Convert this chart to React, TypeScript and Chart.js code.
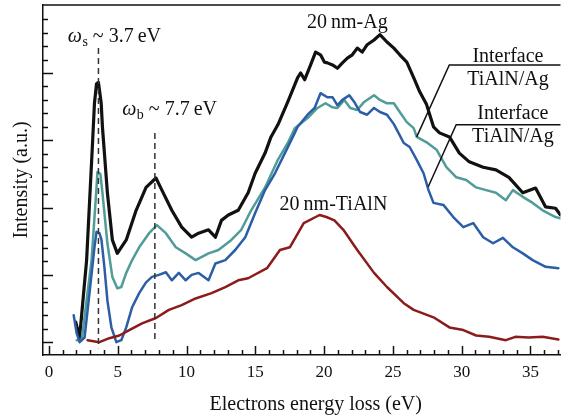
import React, { useEffect, useRef } from 'react';
import { Chart, registerables } from 'chart.js';

Chart.register(...registerables);

const FONT = '"Liberation Serif", "Times New Roman", serif';

// ---- Data (energy loss in eV, intensity in arbitrary units) ----
// 20 nm-Ag (black)
const agEnergy = [1.95, 2.23, 2.74, 3.17, 3.31, 3.46, 3.6, 3.8, 3.89, 4.25, 4.61, 4.97, 5.62, 6.34, 7.06, 7.78, 8.21, 8.93, 9.65, 10.37, 10.88, 11.6, 12.1, 12.54, 13.04, 13.76, 14.48, 14.99, 15.71, 16.14, 16.64, 17.36, 18.08, 18.3, 18.59, 19.02, 19.38, 19.74, 20.03, 20.24, 20.61, 20.97, 21.33, 21.69, 22.05, 22.41, 22.77, 23.13, 23.63, 24.06, 24.57, 25.07, 25.5, 26.01, 26.51, 26.95, 27.45, 27.95, 28.39, 29.11, 29.83, 30.55, 31.56, 32.49, 33.43, 34.44, 35.37, 36.1, 36.82, 37.18];
const agIntensity = [0.3, 0.07, 1.22, 2.96, 3.55, 3.84, 3.86, 3.55, 3.2, 2.22, 1.52, 1.32, 1.52, 1.96, 2.3, 2.44, 2.26, 1.96, 1.71, 1.56, 1.62, 1.67, 1.56, 1.81, 1.89, 1.96, 2.22, 2.51, 2.81, 3.05, 3.23, 3.57, 3.93, 4.0, 3.9, 4.12, 4.31, 4.27, 4.16, 4.15, 4.12, 4.07, 4.15, 4.22, 4.27, 4.37, 4.31, 4.42, 4.49, 4.57, 4.46, 4.37, 4.27, 4.16, 3.93, 3.72, 3.53, 3.2, 3.11, 3.05, 2.81, 2.68, 2.6, 2.56, 2.45, 2.22, 2.29, 2.01, 1.99, 1.89];

// Interface TiAlN/Ag (teal)
const tealEnergy = [2.02, 2.38, 3.1, 3.46, 3.53, 3.74, 3.89, 4.25, 4.61, 4.97, 5.26, 5.62, 6.05, 6.56, 7.28, 7.85, 8.5, 9.22, 9.94, 10.66, 11.6, 12.32, 13.26, 13.98, 14.7, 15.71, 16.64, 17.36, 17.87, 18.8, 19.52, 20.1, 20.61, 20.97, 21.47, 21.9, 22.41, 22.91, 23.63, 24.06, 24.57, 25.07, 25.5, 26.01, 26.51, 26.73, 27.45, 28.17, 28.89, 29.61, 30.33, 31.05, 31.77, 32.49, 33.21, 33.72, 34.44, 35.16, 35.88, 36.82, 37.18];
const tealIntensity = [0.03, 0.03, 1.22, 2.3, 2.53, 2.5, 2.22, 1.47, 0.97, 0.8, 0.82, 1.03, 1.22, 1.41, 1.62, 1.74, 1.62, 1.41, 1.32, 1.22, 1.32, 1.37, 1.52, 1.67, 1.96, 2.3, 2.71, 2.96, 3.18, 3.33, 3.48, 3.55, 3.49, 3.48, 3.6, 3.48, 3.45, 3.57, 3.67, 3.6, 3.55, 3.55, 3.42, 3.27, 3.18, 3.05, 2.97, 2.86, 2.6, 2.45, 2.41, 2.3, 2.26, 2.22, 2.11, 2.26, 2.16, 2.07, 1.96, 1.86, 1.84];

// Interface TiAlN/Ag (blue)
const blueEnergy = [1.8, 2.02, 2.23, 2.59, 2.95, 3.31, 3.46, 3.67, 3.82, 4.03, 4.25, 4.54, 4.9, 5.26, 5.62, 6.05, 6.56, 7.06, 7.49, 7.99, 8.5, 8.93, 9.44, 9.94, 10.37, 10.88, 11.6, 12.1, 12.82, 13.54, 14.27, 14.99, 15.71, 16.43, 17.15, 17.87, 18.08, 18.8, 19.31, 19.74, 20.24, 20.61, 20.97, 21.33, 21.83, 22.19, 22.62, 23.13, 23.63, 24.06, 24.57, 25.07, 25.79, 26.22, 26.73, 27.23, 27.59, 27.95, 28.67, 29.39, 30.12, 30.84, 31.56, 32.28, 33.0, 33.72, 34.44, 35.16, 36.1, 37.03];
const blueIntensity = [0.4, 0.13, 0.0, 0.07, 0.73, 1.41, 1.64, 1.62, 1.52, 1.12, 0.62, 0.22, 0.0, 0.03, 0.22, 0.52, 0.73, 0.89, 0.97, 1.0, 1.04, 0.92, 1.03, 0.92, 1.0, 1.03, 0.92, 1.17, 1.22, 1.37, 1.56, 1.92, 2.26, 2.51, 2.81, 3.11, 3.2, 3.38, 3.48, 3.7, 3.64, 3.64, 3.52, 3.6, 3.67, 3.57, 3.42, 3.38, 3.48, 3.42, 3.38, 3.24, 2.96, 2.9, 2.71, 2.51, 2.26, 2.07, 2.04, 1.86, 1.71, 1.77, 1.56, 1.47, 1.55, 1.41, 1.32, 1.22, 1.12, 1.1];

// 20 nm-TiAlN (dark red)
const tialnEnergy = [2.81, 3.67, 4.39, 5.12, 5.84, 6.77, 7.78, 8.72, 9.65, 10.66, 11.82, 12.82, 13.76, 14.48, 15.85, 16.79, 17.51, 18.52, 19.67, 20.17, 20.75, 21.4, 22.41, 23.63, 24.57, 25.79, 26.51, 27.95, 29.11, 30.12, 31.05, 32.0, 33.21, 33.9, 34.87, 35.88, 37.03];
const tialnIntensity = [0.03, 0.0, 0.06, 0.1, 0.18, 0.28, 0.36, 0.48, 0.55, 0.65, 0.73, 0.82, 0.92, 0.95, 1.1, 1.37, 1.41, 1.77, 1.89, 1.86, 1.81, 1.67, 1.37, 1.03, 0.82, 0.58, 0.48, 0.37, 0.22, 0.18, 0.1, 0.08, 0.03, 0.08, 0.07, 0.08, 0.04];

// Axis ranges and ticks
const X_MIN = -0.43;
const X_MAX = 37.18;
const Y_MIN = -0.19;
const Y_MAX = 5.01;
const X_TICKS = Array.from({ length: 38 }, (_, i) => i); // 0..37, labelled every 5
const Y_TICKS = Array.from({ length: 25 }, (_, i) => Math.round(i * 0.2 * 10) / 10); // 0..4.8

// Plasmon markers
const OMEGA_S_EV = 3.6;
const OMEGA_B_EV = 7.7;

const pts = (xs: number[], ys: number[]) => xs.map((x, i) => ({ x, y: ys[i] }));

const decorPlugin = {
  id: 'eelsDecor',
  afterDraw(chart: any) {
    const { ctx, chartArea: a, scales } = chart;
    const sx = scales.x;
    const sy = scales.y;
    const X = (v: number) => sx.getPixelForValue(v);
    const Y = (v: number) => sy.getPixelForValue(v);
    ctx.save();
    ctx.strokeStyle = '#111';
    ctx.fillStyle = '#111';

    // top frame line
    ctx.lineWidth = 1.5;
    ctx.beginPath();
    ctx.moveTo(a.left, a.top);
    ctx.lineTo(a.right, a.top);
    ctx.stroke();

    // inward tick marks
    ctx.lineWidth = 1.5;
    X_TICKS.forEach((v) => {
      const px = Math.round(X(v)) + 0.5;
      const len = v % 5 === 0 ? 9 : 5;
      ctx.beginPath();
      ctx.moveTo(px, a.bottom);
      ctx.lineTo(px, a.bottom - len);
      ctx.stroke();
    });
    Y_TICKS.forEach((v) => {
      const py = Math.round(Y(v)) + 0.5;
      const major = Math.abs(v - Math.round(v)) < 1e-6;
      const len = major ? 10 : 5;
      ctx.beginPath();
      ctx.moveTo(a.left, py);
      ctx.lineTo(a.left + len, py);
      ctx.stroke();
    });

    // dashed plasmon lines
    ctx.strokeStyle = '#333';
    ctx.lineWidth = 1.5;
    ctx.setLineDash([6, 4]);
    ctx.beginPath();
    ctx.moveTo(X(OMEGA_S_EV), Y(4.37));
    ctx.lineTo(X(OMEGA_S_EV), Y(-0.09));
    ctx.moveTo(X(OMEGA_B_EV), Y(3.11));
    ctx.lineTo(X(OMEGA_B_EV), Y(0.03));
    ctx.stroke();
    ctx.setLineDash([]);

    // omega labels
    const omegaLabel = (x0: number, base: number, sub: string, rest: string) => {
      let cx = x0;
      ctx.textAlign = 'left';
      ctx.textBaseline = 'alphabetic';
      ctx.font = `italic 20px ${FONT}`;
      ctx.fillText('\u03c9', cx, base);
      cx += ctx.measureText('\u03c9').width + 0.5;
      ctx.font = `14px ${FONT}`;
      ctx.fillText(sub, cx, base + 4);
      cx += ctx.measureText(sub).width;
      ctx.font = `20px ${FONT}`;
      ctx.fillText(rest, cx, base);
    };
    ctx.fillStyle = '#111';
    omegaLabel(X(1.37), Y(4.46), 's', ' ~ 3.7\u2009eV');
    omegaLabel(X(5.33), Y(3.38), 'b', ' ~ 7.7\u2009eV');

    // curve labels
    ctx.font = `20px ${FONT}`;
    ctx.textAlign = 'center';
    ctx.textBaseline = 'alphabetic';
    const labels: [string, number, number][] = [
      ['20\u2009nm-Ag', 21.69, 4.67],
      ['20\u2009nm-TiAlN', 20.68, 1.96],
      ['Interface', 33.36, 4.16],
      ['TiAlN/Ag', 33.36, 3.82],
      ['Interface', 33.72, 3.32],
      ['TiAlN/Ag', 33.72, 2.97],
    ];
    labels.forEach(([t, x, y]) => ctx.fillText(t, X(x), Y(y)));

    // leader lines
    ctx.strokeStyle = '#111';
    ctx.lineWidth = 1.5;
    const leaders: [number, number, number, number][] = [
      [29.1, 4.12, 26.73, 3.05],
      [29.6, 3.23, 27.57, 2.31],
    ];
    leaders.forEach(([hx, hy, ex, ey]) => {
      ctx.beginPath();
      ctx.moveTo(a.right, Y(hy));
      ctx.lineTo(X(hx), Y(hy));
      ctx.lineTo(X(ex), Y(ey));
      ctx.stroke();
    });

    // axis titles
    ctx.fillStyle = '#111';
    ctx.font = `20px ${FONT}`;
    ctx.textAlign = 'center';
    ctx.textBaseline = 'alphabetic';
    ctx.fillText('Electrons energy loss (eV)', (a.left + a.right) / 2 + 14, a.bottom + 55);
    ctx.save();
    ctx.translate(a.left - 16, (a.top + a.bottom) / 2);
    ctx.rotate(-Math.PI / 2);
    ctx.fillText('Intensity (a.u.)', 0, 0);
    ctx.restore();

    ctx.restore();
  },
};

export default function App() {
  const ref = useRef<HTMLCanvasElement | null>(null);
  useEffect(() => {
    if (!ref.current) return;
    const chart = new Chart(ref.current, {
      type: 'line',
      data: {
        datasets: [
          { label: '20 nm-TiAlN', data: pts(tialnEnergy, tialnIntensity), borderColor: '#8c1c1c', borderWidth: 2.5 },
          { label: 'Interface TiAlN/Ag (blue)', data: pts(blueEnergy, blueIntensity), borderColor: '#2b5ea6', borderWidth: 2.5 },
          { label: 'Interface TiAlN/Ag (teal)', data: pts(tealEnergy, tealIntensity), borderColor: '#4f9c98', borderWidth: 2.5 },
          { label: '20 nm-Ag', data: pts(agEnergy, agIntensity), borderColor: '#111111', borderWidth: 3.2 },
        ] as any,
      },
      options: {
        animation: false,
        responsive: false,
        devicePixelRatio: 1,
        parsing: false as any,
        elements: { point: { radius: 0 }, line: { tension: 0, borderJoinStyle: 'round', borderCapStyle: 'round' } },
        layout: { padding: { top: 5, right: 0, left: 0, bottom: 0 } },
        plugins: { legend: { display: false }, tooltip: { enabled: false } },
        scales: {
          x: {
            type: 'linear',
            min: X_MIN,
            max: X_MAX,
            afterBuildTicks: (s: any) => {
              s.ticks = X_TICKS.map((v) => ({ value: v }));
            },
            afterFit: (s: any) => {
              s.height = 64;
            },
            ticks: {
              autoSkip: false,
              maxRotation: 0,
              padding: 7,
              color: '#111',
              font: { family: FONT, size: 17 },
              callback: (v: any) => (Number(v) % 5 === 0 ? String(v) : ''),
            },
            grid: { display: false, drawTicks: false },
            border: { display: true, color: '#111', width: 1.5 },
          },
          y: {
            type: 'linear',
            min: Y_MIN,
            max: Y_MAX,
            afterFit: (s: any) => {
              s.width = 43;
            },
            ticks: { display: false },
            grid: { display: false, drawTicks: false },
            border: { display: true, color: '#111', width: 1.5 },
          },
        },
      },
      plugins: [decorPlugin],
    });
    return () => chart.destroy();
  }, []);

  return (
    <div style={{ position: 'fixed', left: 0, top: 0, width: 565, height: 419, background: '#fff' }}>
      <canvas ref={ref} width={565} height={419} style={{ display: 'block', width: 565, height: 419 }} />
    </div>
  );
}
